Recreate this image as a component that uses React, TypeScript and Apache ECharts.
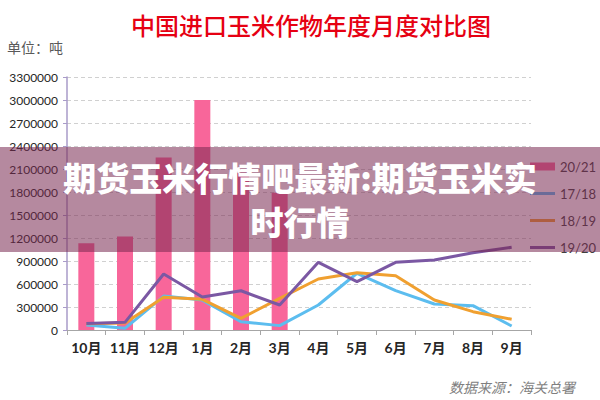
import React, { useEffect, useRef } from "react";
import * as echarts from "echarts";

const months = ["10月", "11月", "12月", "1月", "2月", "3月", "4月", "5月", "6月", "7月", "8月", "9月"];
const s2021 = [1130000, 1220000, 2250000, 3000000, 2050000, 1790000, null, null, null, null, null, null];
const s1718 = [65000, 22000, 443000, 390000, 108000, 57000, 326000, 740000, 513000, 339000, 317000, 52000];
const s1819 = [80000, 90000, 426000, 400000, 152000, 413000, 665000, 748000, 708000, 391000, 239000, 140000];
const s1920 = [85000, 100000, 730000, 430000, 512000, 326000, 883000, 630000, 883000, 913000, 1008000, 1078000];
const seriesNames = ["20/21", "17/18", "18/19", "19/20"];

const title = "中国进口玉米作物年度月度对比图";
const unitText = "单位：吨";
const sourceText = "数据来源：海关总署";
const bannerText = "期货玉米行情吧最新:期货玉米实\n时行情";

const lineIcon = "path://M0,0M0,2.5H25V5.5H0ZM25,8";

export default function App() {
  const ref = useRef<HTMLDivElement>(null);
  useEffect(() => {
    if (!ref.current) return;
    const chart = echarts.init(ref.current, null, { renderer: "svg" });
    const numFont = "Lato, 'Noto Sans CJK SC', sans-serif";
    const cjk = "'Noto Sans CJK SC', sans-serif";
    chart.setOption({
      animation: false,
      backgroundColor: "#ffffff",
      grid: { left: 67, right: 69, top: 77, bottom: 70 },
      legend: {
        orient: "vertical",
        left: 530,
        top: 160,
        padding: 0,
        itemWidth: 25,
        itemHeight: 8,
        itemGap: 14,
        textStyle: { fontSize: 13, color: "#404040", fontFamily: numFont },
        data: [
          { name: seriesNames[0], icon: "rect" },
          { name: seriesNames[1], icon: lineIcon, itemStyle: { borderWidth: 0 } },
          { name: seriesNames[2], icon: lineIcon, itemStyle: { borderWidth: 0 } },
          { name: seriesNames[3], icon: lineIcon, itemStyle: { borderWidth: 0 } },
        ],
      },
      xAxis: {
        type: "category",
        data: months,
        boundaryGap: true,
        axisLine: { lineStyle: { color: "#A6A6A6", width: 1 } },
        axisTick: { show: true, length: 5, lineStyle: { color: "#A6A6A6" } },
        axisLabel: {
          interval: 0,
          color: "#262626",
          fontSize: 14,
          fontWeight: "bold",
          fontFamily: numFont,
          margin: 10,
        },
      },
      yAxis: {
        type: "value",
        min: 0,
        max: 3300000,
        interval: 300000,
        axisLine: { show: true, lineStyle: { color: "#A99BC9", width: 1.5 } },
        axisTick: { show: true, length: 4, lineStyle: { color: "#A99BC9" } },
        axisLabel: {
          color: "#262626",
          fontSize: 12,
          fontFamily: numFont,
          margin: 9,
          formatter: (v: number) => String(v),
        },
        splitLine: { lineStyle: { color: "#D0D0D0", type: [4, 3] } },
      },
      series: [
        {
          name: seriesNames[0],
          type: "bar",
          data: s2021,
          barWidth: 16,
          itemStyle: { color: "#F8669A" },
          z: 1,
        },
        {
          name: seriesNames[1],
          type: "line",
          data: s1718,
          symbol: "none",
          lineStyle: { color: "#5CBDEF", width: 3 },
          itemStyle: { color: "#5CBDEF" },
          z: 2,
        },
        {
          name: seriesNames[2],
          type: "line",
          data: s1819,
          symbol: "none",
          lineStyle: { color: "#F0A030", width: 3 },
          itemStyle: { color: "#F0A030" },
          z: 3,
        },
        {
          name: seriesNames[3],
          type: "line",
          data: s1920,
          symbol: "none",
          lineStyle: { color: "#7B58A3", width: 3 },
          itemStyle: { color: "#7B58A3" },
          z: 4,
        },
      ],
      graphic: [
        {
          type: "text",
          x: 311,
          y: 24,
          style: {
            text: title,
            fill: "#E60012",
            fontSize: 24,
            fontFamily: cjk,
            fontWeight: 500,
            align: "center",
            verticalAlign: "middle",
          },
        },
        {
          type: "text",
          left: 7,
          top: 40,
          style: { text: unitText, fill: "#595959", fontSize: 14, fontFamily: cjk },
        },
        {
          type: "text",
          left: 449,
          top: 380,
          style: { text: sourceText, fill: "#7F7F7F", fontSize: 14, fontFamily: cjk, fontStyle: "italic" },
        },
        {
          type: "rect",
          left: 0,
          top: 147,
          z: 100,
          shape: { width: 600, height: 105 },
          style: { fill: "rgba(120,40,80,0.55)" },
        },
        {
          type: "text",
          z: 101,
          x: 300,
          y: 199,
          style: {
            text: bannerText,
            fill: "#ffffff",
            fontSize: 33,
            lineHeight: 44,
            fontWeight: 900,
            fontFamily: cjk,
            align: "center",
            verticalAlign: "middle",
          },
        },
      ],
    });
    return () => chart.dispose();
  }, []);
  return <div ref={ref} style={{ width: 600, height: 400, position: "absolute", left: 0, top: 0 }} />;
}
